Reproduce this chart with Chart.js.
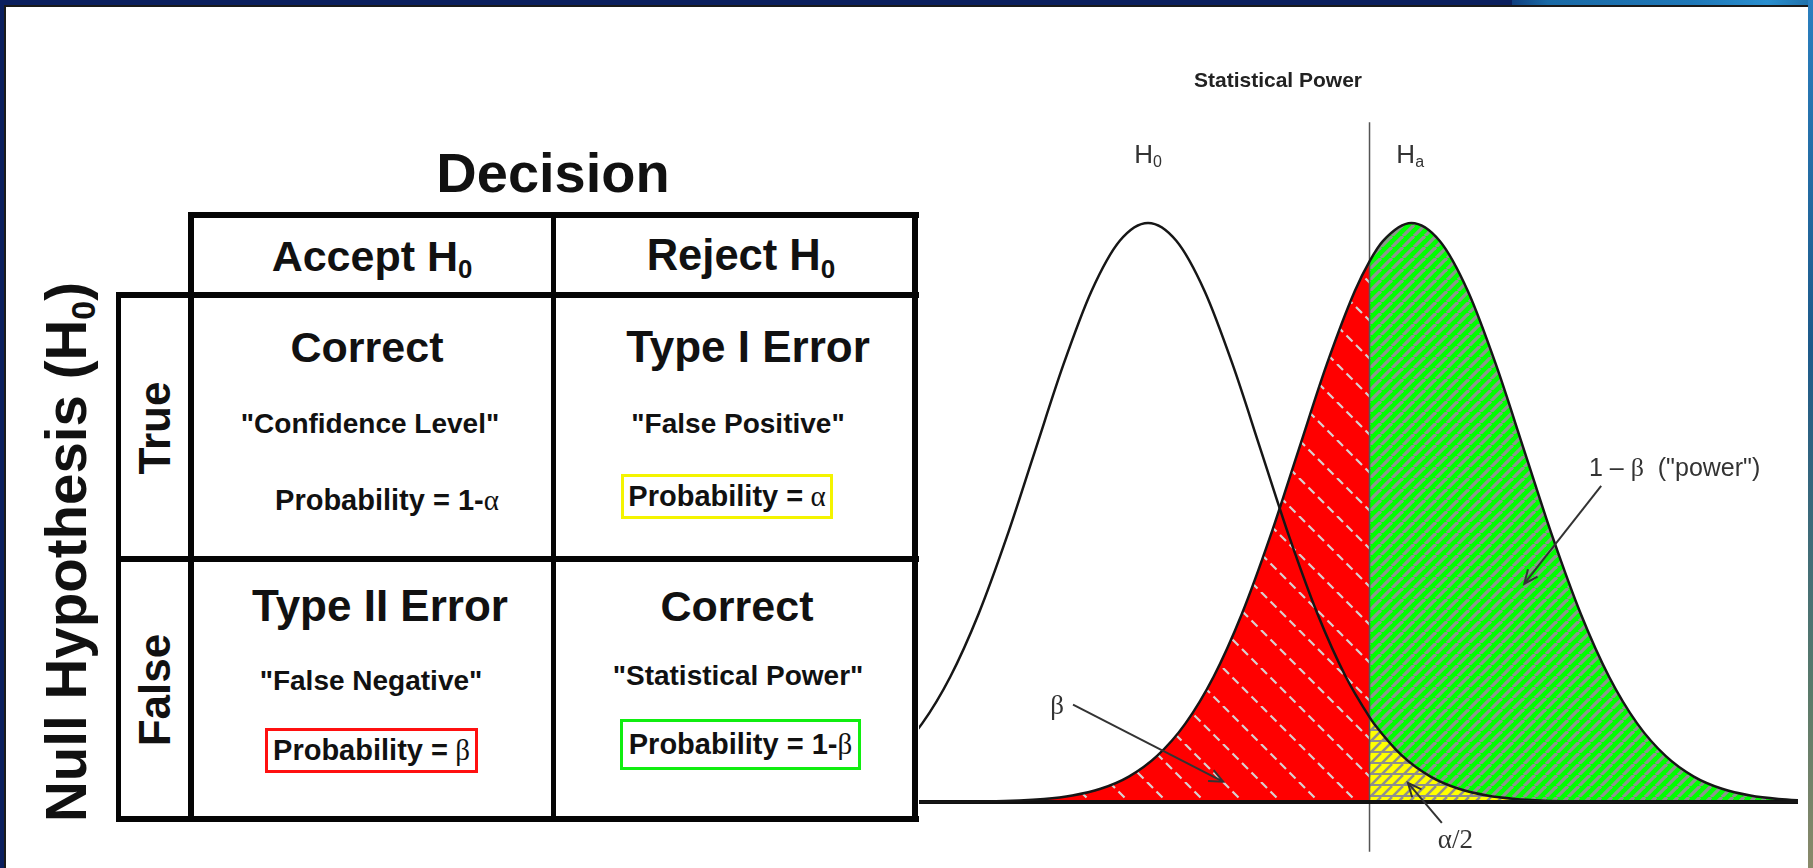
<!DOCTYPE html>
<html><head><meta charset="utf-8">
<script src="https://cdn.jsdelivr.net/npm/chart.js@4.4.1/dist/chart.umd.min.js"></script>
<style>
html,body{margin:0;padding:0}
body{width:1813px;height:868px;position:relative;overflow:hidden;background:#0b1f5e;font-family:'Liberation Sans',Arial,Helvetica,sans-serif}
#topblue{position:absolute;left:1512px;top:0;width:301px;height:6px;background:linear-gradient(90deg,#0f3f7f 0,#1a6aa6 12%,#1f78b8 60%,#2a8fcf 85%,#1f6fa8 100%)}
#rightbar{position:absolute;left:1808px;top:0;width:5px;height:868px;background:linear-gradient(180deg,#2a7fbf,#1d5a8a 40%,#5a7a6a 80%,#8a8a6a)}
#page{position:absolute;left:4px;top:5px;width:1804px;height:863px;background:#fff;border-top:2px solid #1a1a1a;border-left:2px solid #1a1a1a;box-sizing:border-box}
.ln{position:absolute;background:#050505}
.t{position:absolute;transform:translate(-50%,-50%);white-space:nowrap;font-weight:bold;color:#111;line-height:1}
.r{transform:translate(-50%,-50%) rotate(-90deg)}
.g{font-family:'Liberation Serif','Times New Roman',serif;font-weight:normal}
sub{font-size:0.6em;vertical-align:-0.28em;line-height:0}
.box{position:absolute;box-sizing:border-box;border:3px solid;display:flex;align-items:center;justify-content:center;font-weight:bold;color:#111;font-size:29px;white-space:nowrap;line-height:1}
#chartWrap{position:absolute;left:919px;top:60px;width:879px;height:796px}
</style></head>
<body>
<div id="topblue"></div>
<div id="rightbar"></div>
<div id="page"></div>

<!-- table lines -->
<div class="ln" style="left:188px;top:212px;width:731px;height:6px"></div>
<div class="ln" style="left:116px;top:292px;width:803px;height:6px"></div>
<div class="ln" style="left:116px;top:556px;width:803px;height:6px"></div>
<div class="ln" style="left:116px;top:816px;width:803px;height:6px"></div>
<div class="ln" style="left:116px;top:292px;width:5px;height:530px"></div>
<div class="ln" style="left:188px;top:212px;width:6px;height:610px"></div>
<div class="ln" style="left:551px;top:212px;width:5px;height:610px"></div>
<div class="ln" style="left:912px;top:212px;width:6px;height:610px"></div>

<!-- table texts -->
<div class="t" style="left:553px;top:173px;font-size:56px">Decision</div>
<div class="t" style="left:372px;top:256px;font-size:43px">Accept H<sub>0</sub></div>
<div class="t" style="left:741px;top:256px;font-size:43.5px">Reject H<sub>0</sub></div>
<div class="t" style="left:367px;top:347px;font-size:43px">Correct</div>
<div class="t" style="left:748px;top:347px;font-size:44px">Type I Error</div>
<div class="t" style="left:370px;top:424px;font-size:28px">"Confidence Level"</div>
<div class="t" style="left:738px;top:424px;font-size:28px">"False Positive"</div>
<div class="t" style="left:387px;top:500px;font-size:29px">Probability = 1-<span class="g">α</span></div>
<div class="box" style="left:621px;top:474px;width:212px;height:45px;border-color:#f4f400">Probability = <span class="g">&nbsp;α</span></div>
<div class="t" style="left:380px;top:606px;font-size:44px">Type II Error</div>
<div class="t" style="left:737px;top:606px;font-size:43px">Correct</div>
<div class="t" style="left:371px;top:681px;font-size:28px">"False Negative"</div>
<div class="t" style="left:738px;top:676px;font-size:28px">"Statistical Power"</div>
<div class="box" style="left:265px;top:728px;width:213px;height:45px;border-color:#ff1010">Probability = <span class="g">&nbsp;β</span></div>
<div class="box" style="left:620px;top:719px;width:241px;height:51px;border-color:#10ee10">Probability = 1-<span class="g">β</span></div>
<div class="t r" style="left:155px;top:428px;font-size:44px">True</div>
<div class="t r" style="left:155px;top:690px;font-size:44px">False</div>
<div class="t r" style="left:67px;top:552px;font-size:56.5px">Null Hypothesis (H<sub>0</sub>)</div>

<div id="chartWrap"><canvas id="c" width="879" height="796"></canvas></div>

<script>
// ---- data (x in sigma units, y relative to peak height) ----
const nullX = [-2.25,-2,-1.75,-1.5,-1.25,-1,-0.75,-0.5,-0.25,0,0.25,0.5,0.75,1,1.25,1.5,1.75,1.96,2,2.25,2.5,2.75,3,3.25,3.5,3.75,4,4.5,5,5.8];
const nullY = [0.0796,0.1353,0.2163,0.3247,0.4578,0.6065,0.7548,0.8825,0.9692,1,0.9692,0.8825,0.7548,0.6065,0.4578,0.3247,0.2163,0.1465,0.1353,0.0796,0.0439,0.0228,0.0111,0.0051,0.0022,0.0009,0.0003,0,0,0];
const altX = [-2.1,-1.42,-0.92,-0.67,-0.42,-0.17,0.08,0.33,0.58,0.83,1.08,1.33,1.58,1.83,1.96,2.08,2.33,2.58,2.83,3.08,3.33,3.58,3.83,4.08,4.33,4.58,4.83,5.08,5.33,5.58,5.83];
const altY = [0,0.0009,0.0051,0.0111,0.0228,0.0439,0.0796,0.1353,0.2163,0.3247,0.4578,0.6065,0.7548,0.8825,0.9338,0.9692,1,0.9692,0.8825,0.7548,0.6065,0.4578,0.3247,0.2163,0.1353,0.0796,0.0439,0.0228,0.0111,0.0051,0.0022];
const criticalX = 1.96;
const critLineY = [-0.086, 1.174];
const baselineX = [-2.1, 5.8];
const xRange = [-2.027, 5.752];
const yRange = [-0.0933, 1.2815];

const chartTitle = 'Statistical Power';
const titlePos = [1.15, 1.245];
const curveLabels = ['H', 'H'];
const curveSubs = ['0', 'a'];
const curveLabelX = [0, 2.32];
const curveLabelY = [1.116, 1.116];
const noteX = [-0.805, 4.66, 2.72];
const noteY = [0.164, 0.575, -0.067];
const arrowFromX = [-0.664, 4.01, 2.60];
const arrowFromY = [0.168, 0.546, -0.036];
const arrowToX = [0.664, 3.33, 2.30];
const arrowToY = [0.035, 0.377, 0.033];

// ---- styles ----
const SANS = '"Liberation Sans", Arial, sans-serif';
const SERIF = '"Liberation Serif", "Times New Roman", serif';
const noteSegments = [
  [{t:'β', f:'27px '+SERIF}],
  [{t:'1 – ', f:'25px '+SANS},{t:'β', f:'26px '+SERIF},{t:'  ("power")', f:'25px '+SANS}],
  [{t:'α/2', f:'27px '+SERIF}]
];

function hatch(bg, line, size, width, dir, dash, horiz) {
  const c = document.createElement('canvas'); c.width = c.height = size;
  const g = c.getContext('2d');
  g.fillStyle = bg; g.fillRect(0,0,size,size);
  g.strokeStyle = line; g.lineWidth = width;
  if (horiz) { g.fillStyle = line; g.fillRect(0, size-2, size, 2); }
  if (dash) g.setLineDash(dash);
  for (const o of [-size, 0, size]) {
    g.beginPath();
    if (dir === '/') { g.moveTo(o, size); g.lineTo(o+size, 0); }
    else { g.moveTo(o, 0); g.lineTo(o+size, size); }
    g.stroke();
  }
  return g.createPattern(c, 'repeat');
}
const redPat = hatch('#ff0000', '#d8d0d0', 38, 2.2, '\\', [8.5, 4.93]);
const greenPat = hatch('#00ff00', '#8e948e', 11, 3.3, '/');
const yellowPat = hatch('#ffff00', '#8e8e8e', 11, 2.5, '/', null, true);

const pts = (xs, ys) => xs.map((x, i) => ({x, y: ys[i]}));
const nullPts = pts(nullX, nullY);
const altPts = pts(altX, altY);

function drawRich(ctx, segs, cx, cy) {
  let total = 0;
  for (const s of segs) { ctx.font = s.f; s.w = ctx.measureText(s.t).width; total += s.w; }
  let x = cx - total/2;
  ctx.textBaseline = 'middle'; ctx.textAlign = 'left';
  for (const s of segs) { ctx.font = s.f; ctx.fillText(s.t, x, cy + (s.dy||0)); x += s.w; }
}
function arrow(ctx, x1, y1, x2, y2) {
  ctx.beginPath(); ctx.moveTo(x1, y1); ctx.lineTo(x2, y2); ctx.stroke();
  const a = Math.atan2(y2-y1, x2-x1), L = 15, w = 0.42;
  ctx.beginPath();
  ctx.moveTo(x2 - L*Math.cos(a-w), y2 - L*Math.sin(a-w));
  ctx.lineTo(x2, y2);
  ctx.lineTo(x2 - L*Math.cos(a+w), y2 - L*Math.sin(a+w));
  ctx.stroke();
}

const annot = {
  id: 'annot',
  afterDatasetsDraw(chart) {
    const {ctx, scales: {x, y}} = chart;
    ctx.save();
    ctx.fillStyle = '#222';
    drawRich(ctx, [{t: chartTitle, f: 'bold 21px '+SANS}], x.getPixelForValue(titlePos[0]), y.getPixelForValue(titlePos[1]));
    ctx.fillStyle = '#333';
    curveLabels.forEach((l, i) => {
      drawRich(ctx, [{t:l, f:'26px '+SANS},{t:curveSubs[i], f:'16px '+SANS, dy:7}], x.getPixelForValue(curveLabelX[i]), y.getPixelForValue(curveLabelY[i]));
    });
    noteSegments.forEach((segs, i) => drawRich(ctx, segs, x.getPixelForValue(noteX[i]), y.getPixelForValue(noteY[i])));
    ctx.strokeStyle = '#333'; ctx.lineWidth = 2;
    arrowFromX.forEach((_, i) => arrow(ctx,
      x.getPixelForValue(arrowFromX[i]), y.getPixelForValue(arrowFromY[i]),
      x.getPixelForValue(arrowToX[i]), y.getPixelForValue(arrowToY[i])));
    ctx.restore();
  }
};

const curve = {cubicInterpolationMode: 'monotone', pointRadius: 0};
new Chart(document.getElementById('c'), {
  type: 'line',
  data: {
    datasets: [
      {...curve, data: nullPts, borderColor: '#161616', borderWidth: 2.5, fill: false},
      {...curve, data: altPts, borderColor: '#161616', borderWidth: 2.5, fill: false},
      {data: baselineX.map(v => ({x: v, y: 0})), borderColor: '#111', borderWidth: 4, pointRadius: 0, fill: false},
      {data: critLineY.map(v => ({x: criticalX, y: v})), borderColor: '#555', borderWidth: 1.5, pointRadius: 0, fill: false},
      {...curve, data: nullPts.filter(p => p.x >= criticalX), borderWidth: 0, borderColor: 'rgba(0,0,0,0)', backgroundColor: yellowPat, fill: 'origin'},
      {...curve, data: altPts.filter(p => p.x >= criticalX), borderWidth: 0, borderColor: 'rgba(0,0,0,0)', backgroundColor: greenPat, fill: 'origin'},
      {...curve, data: altPts.filter(p => p.x <= criticalX), borderWidth: 0, borderColor: 'rgba(0,0,0,0)', backgroundColor: redPat, fill: 'origin'}
    ]
  },
  options: {
    responsive: false,
    animation: false,
    layout: {padding: 0},
    plugins: {legend: {display: false}, tooltip: {enabled: false}, title: {display: false}},
    scales: {
      x: {type: 'linear', min: xRange[0], max: xRange[1], display: false},
      y: {type: 'linear', min: yRange[0], max: yRange[1], display: false}
    }
  },
  plugins: [annot]
});
</script>
</body></html>
